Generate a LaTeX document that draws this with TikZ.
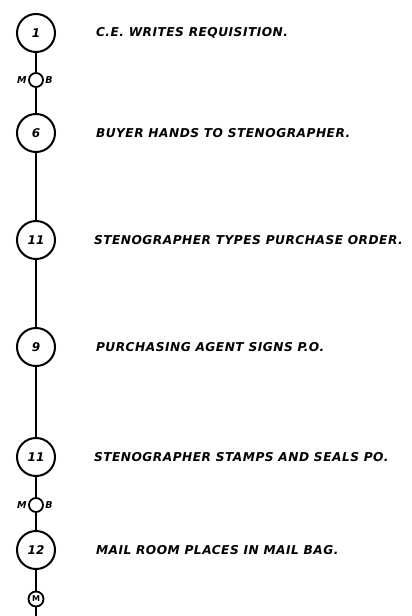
\documentclass[tikz,border=0pt]{standalone}
\usepackage{fontspec}
\newfontfamily\handfont[LetterSpace=4]{DejaVu Sans}
\newfontfamily\numfont{DejaVu Sans}
\usetikzlibrary{positioning}
\tikzstyle{op} = [circle, draw = black, line width = 2, minimum size = 38,
  inner sep = 0, font = \numfont\bfseries\itshape\fontsize{12}{14}\selectfont]
\tikzstyle{delay} = [circle, draw = black, line width = 1.8, minimum size = 14,
  inner sep = 0]
\tikzstyle{textarea} = [anchor = west, inner sep = 0,
  font = \handfont\bfseries\itshape\fontsize{12.2}{14}\selectfont]
\tikzstyle{sidemark} = [inner sep = 0.5, font = \numfont\bfseries\itshape\fontsize{9.5}{11}\selectfont]

\begin{document}
\begin{tikzpicture}[x = 1pt, y = -1pt, line width = 2]
    \useasboundingbox (0, 0) rectangle (412, 616);
    % steps
    \node [op] (step-1) at (36, 33) {1};
    \node [delay] (wait-1) at (36, 80) {};
    \node [op] (step-2) at (36, 133) {6};
    \node [op] (step-3) at (36, 240) {11};
    \node [op] (step-4) at (36, 347) {9};
    \node [op] (step-5) at (36, 457) {11};
    \node [delay] (wait-2) at (36, 505) {};
    \node [op] (step-6) at (36, 550) {12};
    \node [delay, minimum size = 15, font = \numfont\bfseries\fontsize{8}{9}\selectfont] (mail) at (36, 599) {M};
    \coordinate (bottom) at (36, 616);
    % marks beside the small circles
    \node [sidemark, left = 0 of wait-1] (wait-1-m) {M};
    \node [sidemark, right = 0 of wait-1] (wait-1-b) {B};
    \node [sidemark, left = 0 of wait-2] (wait-2-m) {M};
    \node [sidemark, right = 0 of wait-2] (wait-2-b) {B};
    % texts
    \node [textarea, right = 39 of step-1] (text-1) {C.E. WRITES REQUISITION.};
    \node [textarea, right = 39 of step-2] (text-2) {BUYER HANDS TO STENOGRAPHER.};
    \node [textarea, right = 37 of step-3] (text-3) {STENOGRAPHER TYPES PURCHASE ORDER.};
    \node [textarea, right = 39 of step-4] (text-4) {PURCHASING AGENT SIGNS P.O.};
    \node [textarea, right = 37 of step-5] (text-5) {STENOGRAPHER STAMPS AND SEALS PO.};
    \node [textarea, right = 39 of step-6] (text-6) {MAIL ROOM PLACES IN MAIL BAG.};

    \draw (step-1) -- (wait-1);
    \draw (wait-1) -- (step-2);
    \draw (step-2) -- (step-3);
    \draw (step-3) -- (step-4);
    \draw (step-4) -- (step-5);
    \draw (step-5) -- (wait-2);
    \draw (wait-2) -- (step-6);
    \draw (step-6) -- (mail);
    \draw (mail) -- (bottom);
  \end{tikzpicture}
\end{document}
